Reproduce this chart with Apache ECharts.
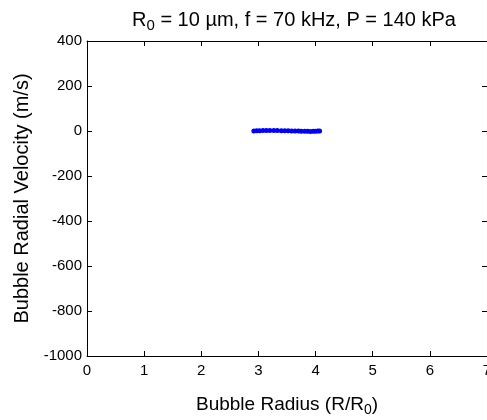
<!DOCTYPE html>
<html>
<head>
<meta charset="utf-8">
<script src="https://cdn.jsdelivr.net/npm/echarts@6/dist/echarts.min.js"></script>
<style>
html, body { margin: 0; padding: 0; background: #fff; }
#main { width: 487px; height: 420px; }
</style>
</head>
<body>
<div id="main"></div>
<script>
// bubble radius (R/R0) and radial velocity (m/s)
var radius = [2.92, 2.97, 3.02, 3.08, 3.14, 3.2, 3.27, 3.33, 3.4, 3.46, 3.52, 3.58, 3.64, 3.7, 3.75, 3.81, 3.86, 3.91, 3.96, 4.0, 4.04, 4.07];
var velocity = [0, 1, 1, 2, 2, 2, 2, 2, 1, 1, 1, 0, 0, 0, -1, -1, -1, -2, -1, -1, 0, 0];

var chart = echarts.init(document.getElementById('main'));
var font = 'Liberation Sans, Arial, sans-serif';

var pts = [];
for (var i = 0; i < radius.length; i++) {
	pts.push([radius[i], velocity[i]]);
}

function axisBase(show, margin) {
	return {
		axisLine: { show: true, onZero: false, lineStyle: { color: '#000', width: 1 } },
		axisTick: { show: true, inside: true, length: 5, lineStyle: { color: '#000' } },
		splitLine: { show: false },
		axisLabel: {
			show: show, color: '#000', fontSize: 15, fontFamily: font, margin: margin,
			formatter: function (v) { return String(v); }
		}
	};
}

chart.setOption({
	animation: false,
	title: {
		text: 'R{sub|0} = 10 µm, f = 70 kHz, P = 140 kPa',
		left: 289,
		top: 3,
		textAlign: 'center',
		textStyle: {
			fontSize: 20, fontWeight: 'normal', color: '#000', fontFamily: font,
			rich: { sub: { fontSize: 15, verticalAlign: 'bottom', padding: [10, 0, 0, 0], color: '#000', fontFamily: font } }
		}
	},
	grid: { left: 87, right: 0, top: 41, bottom: 64, outerBoundsMode: 'none', containLabel: false },
	xAxis: [
		Object.assign({
			type: 'value', position: 'bottom', min: 0, max: 7, interval: 1,
			name: 'Bubble Radius (R/R{sub|0})',
			nameLocation: 'middle', nameGap: 37,
			nameTextStyle: {
				fontSize: 19, color: '#000', fontFamily: font,
				rich: { sub: { fontSize: 14, verticalAlign: 'bottom', padding: [10, 0, 0, 0], color: '#000', fontFamily: font } }
			}
		}, axisBase(true, 7)),
		Object.assign({ type: 'value', position: 'top', min: 0, max: 7, interval: 1 }, axisBase(false, 7))
	],
	yAxis: [
		Object.assign({
			type: 'value', position: 'left', min: -1000, max: 400, interval: 200,
			name: 'Bubble Radial Velocity (m/s)',
			nameLocation: 'middle', nameGap: 55,
			nameTextStyle: { fontSize: 20, color: '#000', fontFamily: font }
		}, axisBase(true, 5)),
		Object.assign({ type: 'value', position: 'right', min: -1000, max: 400, interval: 200 }, axisBase(false, 5))
	],
	series: [{
		type: 'line',
		data: pts,
		symbol: 'circle',
		symbolSize: 5,
		showSymbol: true,
		itemStyle: { color: '#0000ff' },
		lineStyle: { color: '#0000ff', width: 2 }
	}]
});
</script>
</body>
</html>
